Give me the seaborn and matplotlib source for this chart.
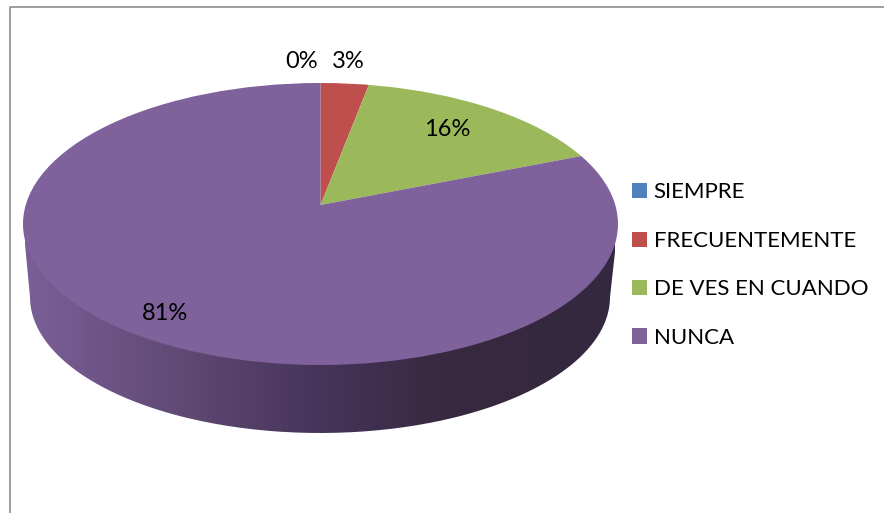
import numpy as np
import matplotlib
matplotlib.use('Agg')
import matplotlib.pyplot as plt
from matplotlib.colors import LinearSegmentedColormap
from matplotlib.lines import Line2D
from matplotlib.patches import PathPatch
from matplotlib.path import Path
import seaborn as sns

# Data
categories = ['SIEMPRE', 'FRECUENTEMENTE', 'DE VES EN CUANDO', 'NUNCA']
values = [0, 3, 16, 81]
colors = ['#4F81BD', '#BE4F4D', '#9BB95A', '#7F619B']

W, H = 884, 513

sns.set_theme(style='white')
plt.rcParams['font.family'] = ['Lato', 'DejaVu Sans']
palette = sns.color_palette(colors)

fig = plt.figure(figsize=(W / 100, H / 100), dpi=100, facecolor='white')
ax = fig.add_axes([0, 0, 1, 1])


# pixel position -> pie units (top ellipse is the unit circle, squashed)
def px(x):
    return (x - 320.5) / 297.5


def py(y):
    return (224 - y) / 141


# Pie top: apex sits above the ellipse centre because of the 3D perspective
wedges, _ = ax.pie(values, colors=palette, startangle=90, counterclock=False,
                   center=(0, py(205)), radius=1.35, wedgeprops={'linewidth': 0})
for w in wedges:
    # pie switches clipping off for its wedges
    w.set_clip_on(True)
    w.set_clip_path(Path.unit_circle(), ax.transData)
    w.set_zorder(3)

# Side wall with the dark gradient
t = np.linspace(np.pi, 2 * np.pi, 200)
wall_x = px(320) + (290 / 297.5) * np.cos(t)
wall_y = py(297) + (136 / 141) * np.sin(t)
verts = [(px(23), py(223))] + list(zip(wall_x, wall_y)) + [(px(618), py(225)), (px(23), py(223))]
wall = PathPatch(Path(verts), transform=ax.transData, facecolor='none', edgecolor='none')
ax.add_patch(wall)
wall_cmap = LinearSegmentedColormap.from_list('wall', [
    (0.0, '#7A5F96'), (0.28, '#5F4872'), (0.5, '#46345A'), (0.72, '#37293F'), (1.0, '#332840')])
grad = np.linspace(0, 1, 300).reshape(1, -1)
im = ax.imshow(grad, cmap=wall_cmap, aspect='auto', zorder=1,
               extent=[px(25), px(615), py(440), py(200)])
im.set_clip_path(wall)
ax.set_aspect('auto')
ax.set_xlim(px(0), px(W))
ax.set_ylim(py(H), py(0))

# Percent labels
label_pos = [(302, 62), (348, 62), (447, 130), (165, 313)]
for v, (lx, ly) in zip(values, label_pos):
    ax.text(px(lx), py(ly), f'{v}%', ha='center', va='center', fontsize=17,
            color='black', zorder=5)

# Legend
ax.legend(wedges, categories, loc='upper left', frameon=False, fontsize=16,
          bbox_to_anchor=(632 / W, 1 - 182.5 / H), bbox_transform=fig.transFigure,
          borderpad=0, borderaxespad=0, handlelength=0.675, handleheight=0.675,
          handletextpad=0.3, labelspacing=1.28, labelcolor='black')

# Chart frame, cut off by the screenshot on the right and bottom
fig.add_artist(Line2D([9.5 / W, 9.5 / W, 1], [0, 1 - 6.5 / H, 1 - 6.5 / H],
                      color='#8E8E8E', lw=1.2))

fig.savefig('out.png', dpi=100)
